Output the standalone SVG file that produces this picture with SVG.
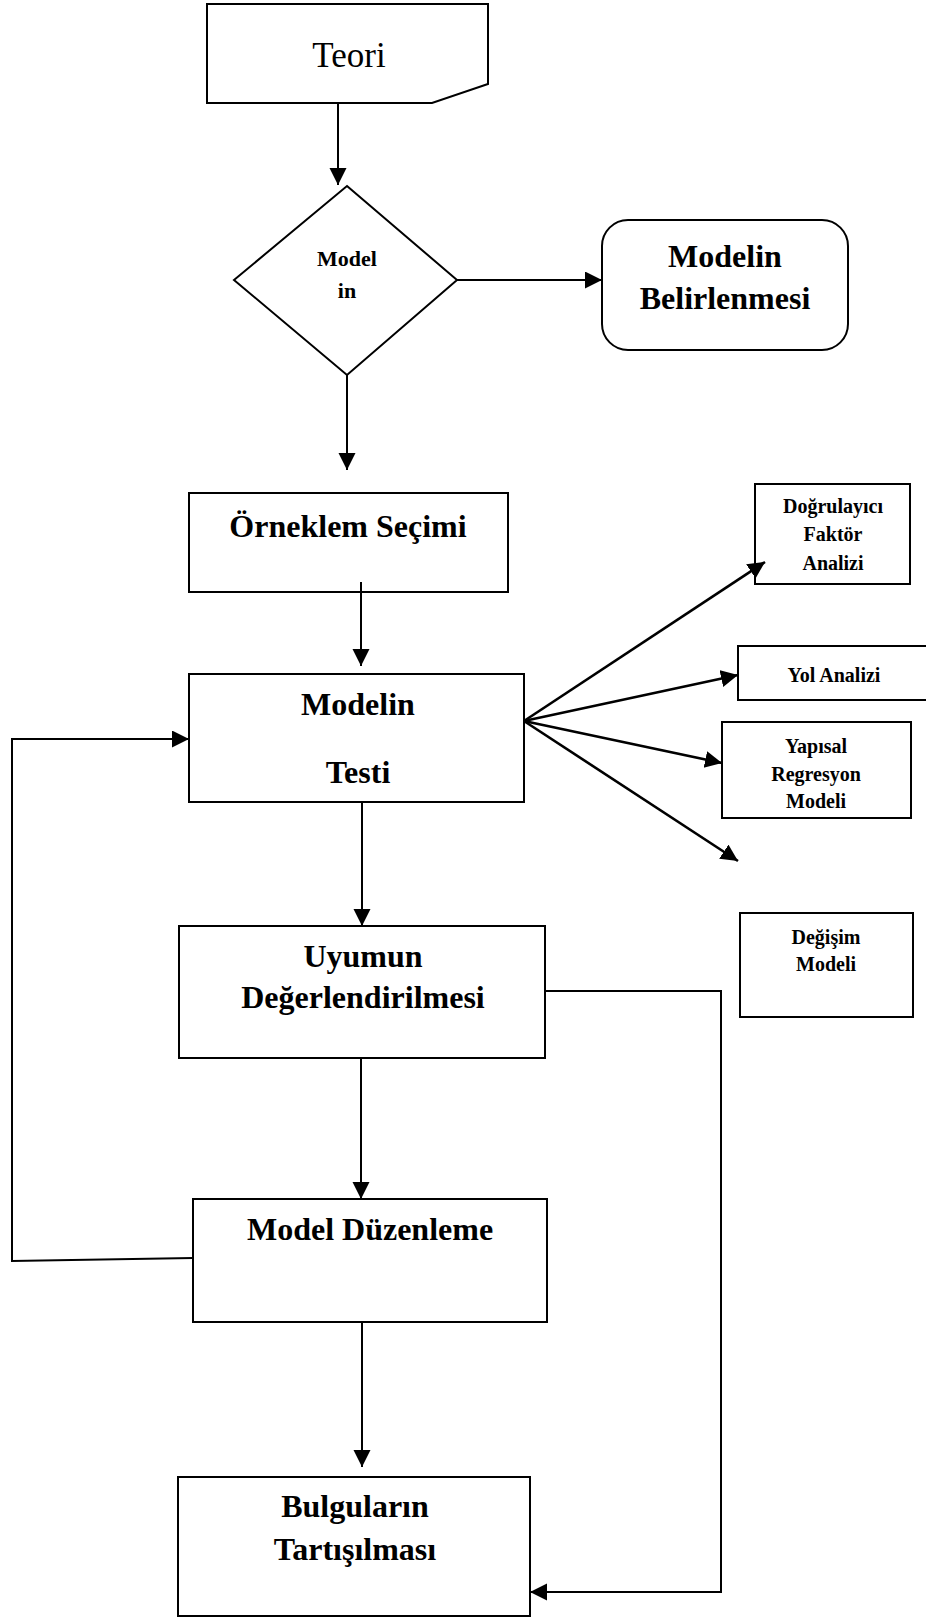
<svg xmlns="http://www.w3.org/2000/svg" width="926" height="1618" viewBox="0 0 926 1618">
<defs>
<marker id="ah" markerUnits="userSpaceOnUse" markerWidth="18" markerHeight="18" refX="17" refY="8.5" orient="auto">
<path d="M0,0 L17,8.5 L0,17 Z" fill="#000"/>
</marker>
<style>
.box{fill:#fff;stroke:#000;stroke-width:2}
.c{fill:none;stroke:#000;stroke-width:2}
.d{fill:none;stroke:#000;stroke-width:2.6}
.t{font-family:"Liberation Serif","Times New Roman",serif;font-weight:bold;text-anchor:middle;fill:#000}
.big{font-size:32px}
.sm{font-size:20px}
</style>
</defs>
<rect width="926" height="1618" fill="#fff"/>
<g id="teori">
<path class="box" d="M207,4 L488,4 L488,84 L432,103 L207,103 Z"/>
<text x="349" y="67" style="font-family:'Liberation Serif','Times New Roman',serif;font-size:35px;text-anchor:middle">Teori</text>
</g>
<g id="karar">
<path class="box" d="M347,186 L457,280 L347,375 L234,280 Z"/>
<text class="t" x="347" y="266" font-size="22">Model</text>
<text class="t" x="347" y="298" font-size="22">in</text>
</g>
<g id="belirlenme">
<rect class="box" x="602" y="220" width="246" height="130" rx="26"/>
<text class="t big" x="725" y="267">Modelin</text>
<text class="t big" x="725" y="309">Belirlenmesi</text>
</g>
<g id="orneklem">
<rect class="box" x="189" y="493" width="319" height="99"/>
<text class="t big" x="348" y="537">Örneklem Seçimi</text>
</g>
<g id="test">
<rect class="box" x="189" y="674" width="335" height="128"/>
<text class="t big" x="358" y="715">Modelin</text>
<text class="t big" x="358" y="783">Testi</text>
</g>
<g id="uyum">
<rect class="box" x="179" y="926" width="366" height="132"/>
<text class="t big" x="363" y="967">Uyumun</text>
<text class="t big" x="363" y="1008">Değerlendirilmesi</text>
</g>
<g id="duzenleme">
<rect class="box" x="193" y="1199" width="354" height="123"/>
<text class="t big" x="370" y="1240">Model Düzenleme</text>
</g>
<g id="bulgular">
<rect class="box" x="178" y="1477" width="352" height="139"/>
<text class="t big" x="355" y="1517">Bulguların</text>
<text class="t big" x="355" y="1560">Tartışılması</text>
</g>
<g id="dfa">
<rect class="box" x="755" y="484" width="155" height="100"/>
<text class="t sm" x="833" y="513">Doğrulayıcı</text>
<text class="t sm" x="833" y="541">Faktör</text>
<text class="t sm" x="833" y="570">Analizi</text>
</g>
<g id="yol">
<rect class="box" x="738" y="646" width="200" height="54"/>
<text class="t sm" x="834" y="682">Yol Analizi</text>
</g>
<g id="yapisal">
<rect class="box" x="722" y="722" width="189" height="96"/>
<text class="t sm" x="816" y="753">Yapısal</text>
<text class="t sm" x="816" y="781">Regresyon</text>
<text class="t sm" x="816" y="808">Modeli</text>
</g>
<g id="degisim">
<rect class="box" x="740" y="913" width="173" height="104"/>
<text class="t sm" x="826" y="944">Değişim</text>
<text class="t sm" x="826" y="971">Modeli</text>
</g>
<g id="connectors">
<line class="c" x1="338" y1="103" x2="338" y2="185" marker-end="url(#ah)"/>
<line class="c" x1="457" y1="280" x2="602" y2="280" marker-end="url(#ah)"/>
<line class="c" x1="347" y1="375" x2="347" y2="470" marker-end="url(#ah)"/>
<line class="c" x1="361" y1="582" x2="361" y2="666" marker-end="url(#ah)"/>
<line class="c" x1="362" y1="802" x2="362" y2="926" marker-end="url(#ah)"/>
<line class="c" x1="361" y1="1058" x2="361" y2="1199" marker-end="url(#ah)"/>
<line class="c" x1="362" y1="1322" x2="362" y2="1467" marker-end="url(#ah)"/>
<line class="d" x1="524" y1="721" x2="765" y2="562" marker-end="url(#ah)"/>
<line class="d" x1="524" y1="721" x2="738" y2="675" marker-end="url(#ah)"/>
<line class="d" x1="524" y1="721" x2="722" y2="763" marker-end="url(#ah)"/>
<line class="d" x1="524" y1="721" x2="738" y2="861" marker-end="url(#ah)"/>
<polyline class="c" points="193,1258 12,1261 12,739 189,739" marker-end="url(#ah)"/>
<polyline class="c" points="545,991 721,991 721,1592 530,1592" marker-end="url(#ah)"/>
</g>
</svg>
